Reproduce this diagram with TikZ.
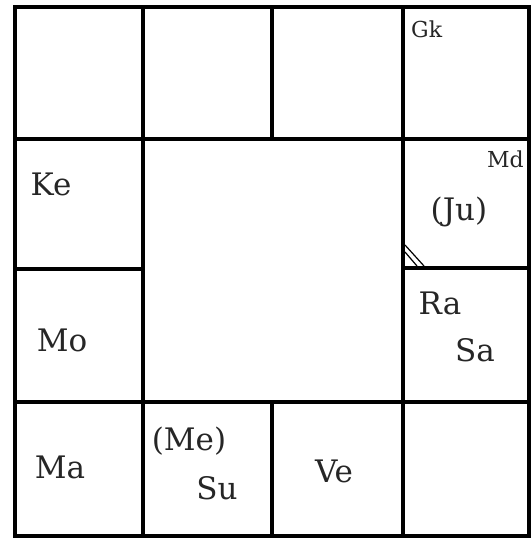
\documentclass[tikz,border=0pt]{standalone}
\usepackage{fontspec}
\setmainfont{DejaVu Serif}
\begin{document}
\begin{tikzpicture}[x=1pt,y=-1pt,
  grid/.style={line width=4.2pt,line cap=rect},
  big/.style={font=\fontsize{31}{34}\selectfont,inner sep=0pt,text=black!85},
  small/.style={font=\fontsize{22}{24}\selectfont,inner sep=0pt,text=black!85},
  lagna/.style={line width=1.2pt}]
\useasboundingbox (0,0) rectangle (531,538);
% outer frame
\draw[grid] (15,7) rectangle (529,536);
% vertical lines
\draw[grid] (143,7) -- (143,536);
\draw[grid] (403,7) -- (403,536);
\draw[grid] (272,7) -- (272,139);
\draw[grid] (272,402) -- (272,536);
% horizontal lines
\draw[grid] (15,139) -- (529,139);
\draw[grid] (15,402) -- (529,402);
\draw[grid] (15,269) -- (143,269);
\draw[grid] (403,268) -- (529,268);
% lagna marker
\draw[lagna] (405,245) -- (424,266);
\draw[lagna] (405,252) -- (417,266);
% labels
\node[small,anchor=base west] (gk) at (411,37) {Gk};
\node[small,anchor=base east] (md) at (524,167) {Md};
\node[big] (ju) at (459,212) {(Ju)};
\node[big] (ke) at (51,184) {Ke};
\node[big] (mo) at (62,340) {Mo};
\node[big] (ra) at (440,303) {Ra};
\node[big] (sa) at (475,350) {Sa};
\node[big] (ma) at (60,467) {Ma};
\node[big] (me) at (189,441) {(Me)};
\node[big] (su) at (217,488) {Su};
\node[big] (ve) at (334,471) {Ve};
\end{tikzpicture}
\end{document}
